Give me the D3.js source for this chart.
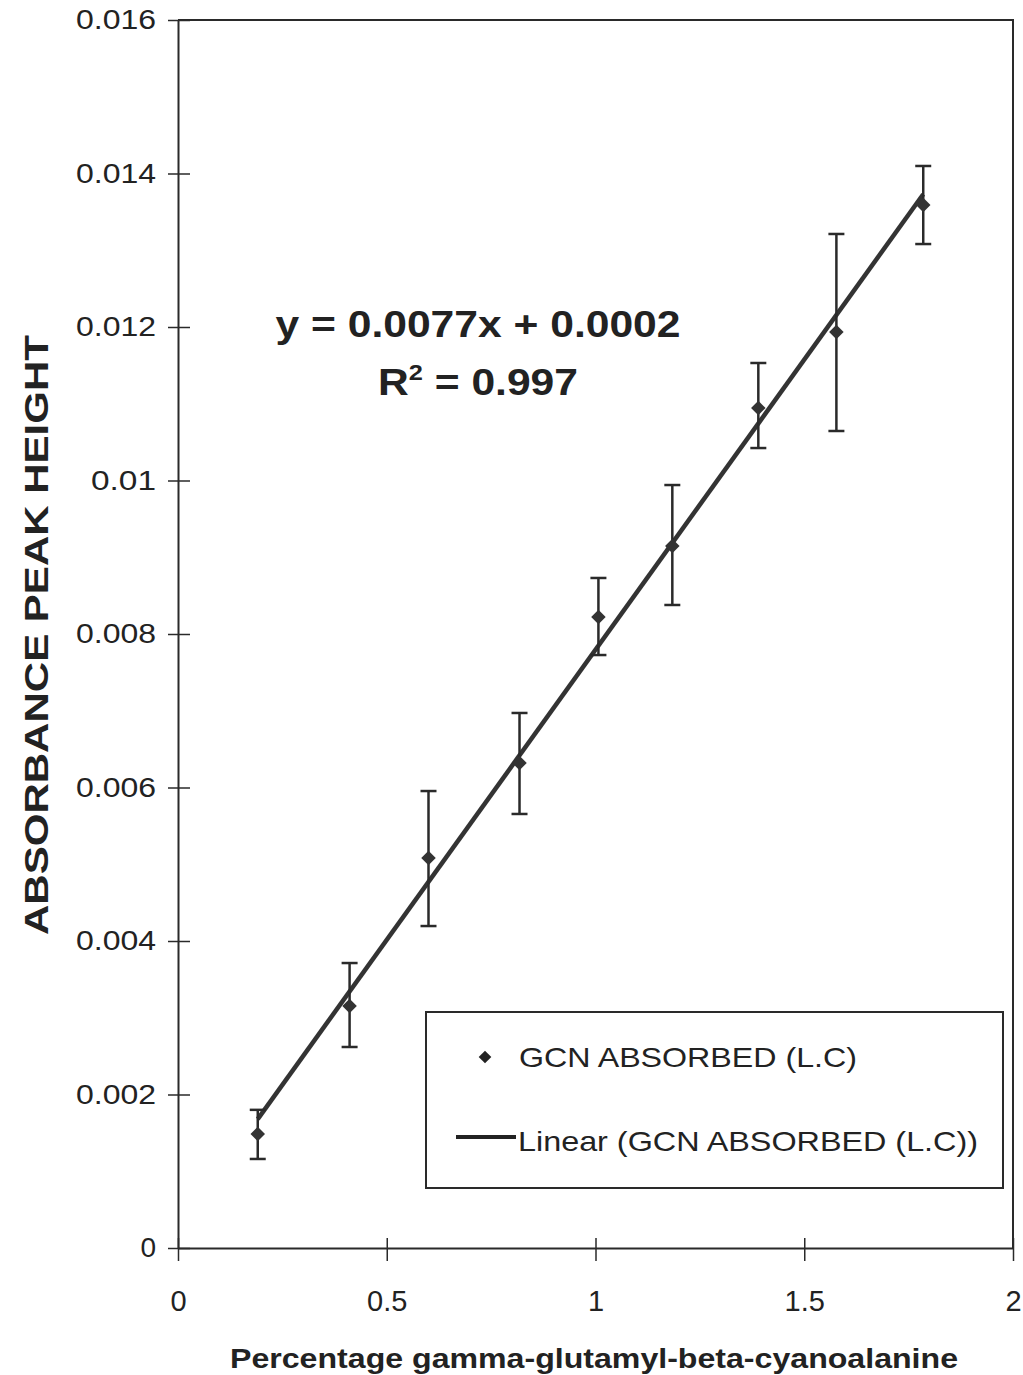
<!DOCTYPE html>
<html><head><meta charset="utf-8">
<script src="https://cdn.jsdelivr.net/npm/d3@7"></script>
<style>
html,body{margin:0;padding:0;background:#fff;}
text{font-family:"Liberation Sans",Arial,Helvetica,sans-serif;fill:#222;}
</style></head>
<body>
<svg id="chart" width="1023" height="1375"></svg>
<script>
// ---- data ----
const percent = [0.191, 0.411, 0.600, 0.818, 1.007, 1.184, 1.390, 1.577, 1.785];
const absorbance = [0.001485, 0.003153, 0.005081, 0.006319, 0.008221, 0.009147, 0.010945, 0.011935, 0.013590];
const errUpper = [0.00180, 0.003713, 0.005954, 0.006971, 0.008730, 0.009941, 0.011531, 0.013212, 0.014098];
const errLower = [0.00116, 0.002619, 0.004195, 0.005655, 0.007726, 0.008378, 0.010423, 0.010645, 0.013081];
const xTicks = [0, 0.5, 1, 1.5, 2];
const xTickLabels = ["0", "0.5", "1", "1.5", "2"];
const yTicks = [0, 0.002, 0.004, 0.006, 0.008, 0.01, 0.012, 0.014, 0.016];
const yTickLabels = ["0", "0.002", "0.004", "0.006", "0.008", "0.01", "0.012", "0.014", "0.016"];
const equationText = "y = 0.0077x + 0.0002";
const r2Text = " = 0.997";
const seriesName = "GCN ABSORBED (L.C)";
const trendName = "Linear (GCN ABSORBED (L.C))";
const xTitle = "Percentage gamma-glutamyl-beta-cyanoalanine";
const yTitle = "ABSORBANCE PEAK HEIGHT";

const svg = d3.select("#chart");
const L = 178, R = 1013, T = 20, B = 1248;
const x = d3.scaleLinear().domain([0, 2]).range([L, R]);
const y = d3.scaleLinear().domain([0, 0.016]).range([B, T]);
const ink = "#2a2a2a";
const FF = '"Liberation Sans",Arial,sans-serif';

// frame (top & right borders)
svg.append("path").attr("d", `M${L},${T}H${R}V${B}`).attr("fill", "none").attr("stroke", ink).attr("stroke-width", 2);

// y axis
const yAxis = d3.axisLeft(y).tickValues(yTicks).tickFormat((d, i) => yTickLabels[i]).tickSizeInner(10).tickSizeOuter(0).tickPadding(12);
const gy = svg.append("g").attr("transform", `translate(${L},0)`).call(yAxis);
gy.select(".domain").attr("stroke", ink).attr("stroke-width", 2);
gy.selectAll(".tick line").attr("stroke", ink).attr("stroke-width", 1.5).attr("x2", 12).attr("x1", -10);
gy.selectAll(".tick text").attr("font-size", 28).attr("fill", "#222").attr("x", -22)
  .attr("font-family", FF).attr("textLength", (d, i) => yTickLabels[i].length === 1 ? null : (yTickLabels[i].length === 4 ? 65 : 80))
  .attr("lengthAdjust", "spacingAndGlyphs");

// x axis
const xAxis = d3.axisBottom(x).tickValues(xTicks).tickFormat((d, i) => xTickLabels[i]).tickSizeInner(12).tickSizeOuter(0).tickPadding(30);
const gx = svg.append("g").attr("transform", `translate(0,${B})`).call(xAxis);
gx.select(".domain").attr("stroke", ink).attr("stroke-width", 2);
gx.selectAll(".tick line").attr("stroke", ink).attr("stroke-width", 1.5).attr("y1", -10).attr("y2", 13);
gx.selectAll(".tick text").attr("font-size", 29).attr("fill", "#222").attr("font-family", FF);

// titles
svg.append("text").attr("x", 594).attr("y", 1368).attr("text-anchor", "middle")
  .attr("font-size", 28).attr("font-weight", "bold")
  .attr("textLength", 728).attr("lengthAdjust", "spacingAndGlyphs").text(xTitle);
svg.append("text").attr("transform", "translate(48,635) rotate(-90)").attr("text-anchor", "middle")
  .attr("font-size", 34).attr("font-weight", "bold")
  .attr("textLength", 600).attr("lengthAdjust", "spacingAndGlyphs").text(yTitle);

// regression line from data
const n = percent.length;
const mx = d3.mean(percent), my = d3.mean(absorbance);
let sxy = 0, sxx = 0;
for (let i = 0; i < n; i++) { sxy += (percent[i] - mx) * (absorbance[i] - my); sxx += (percent[i] - mx) ** 2; }
const slope = sxy / sxx, icpt = my - slope * mx;
const x0 = d3.min(percent), x1 = d3.max(percent);
svg.append("line").attr("x1", x(x0)).attr("y1", y(icpt + slope * x0)).attr("x2", x(x1)).attr("y2", y(icpt + slope * x1))
  .attr("stroke", "#333").attr("stroke-width", 4.5);

// error bars
const eb = svg.append("g").attr("stroke", ink).attr("stroke-width", 2.5);
percent.forEach((p, i) => {
  const cx = x(p);
  eb.append("line").attr("x1", cx).attr("x2", cx).attr("y1", y(errUpper[i])).attr("y2", y(errLower[i]));
  eb.append("line").attr("x1", cx - 8).attr("x2", cx + 8).attr("y1", y(errUpper[i])).attr("y2", y(errUpper[i]));
  eb.append("line").attr("x1", cx - 8).attr("x2", cx + 8).attr("y1", y(errLower[i])).attr("y2", y(errLower[i]));
});

// markers (square rotated 45deg = diamond)
const diamond = d3.symbol().type(d3.symbolSquare).size(105);
svg.append("g").selectAll("path").data(percent).join("path")
  .attr("transform", (d, i) => `translate(${x(d)},${y(absorbance[i])}) rotate(45)`)
  .attr("d", diamond).attr("fill", "#333");

// equation
svg.append("text").attr("x", 478).attr("y", 337).attr("text-anchor", "middle")
  .attr("font-size", 37).attr("font-weight", "bold")
  .attr("textLength", 405).attr("lengthAdjust", "spacingAndGlyphs").text(equationText);
const r2 = svg.append("text").attr("x", 478).attr("y", 395).attr("text-anchor", "middle")
  .attr("font-size", 37).attr("font-weight", "bold")
  .attr("textLength", 200).attr("lengthAdjust", "spacingAndGlyphs");
r2.append("tspan").text("R");
r2.append("tspan").attr("font-size", 22).attr("dy", -15).text("2");
r2.append("tspan").attr("dy", 15).text(r2Text);

// legend
const lg = svg.append("g");
lg.append("rect").attr("x", 426).attr("y", 1012).attr("width", 577).attr("height", 176)
  .attr("fill", "#fff").attr("stroke", ink).attr("stroke-width", 2);
lg.append("path").attr("transform", "translate(485,1057) rotate(45)").attr("d", d3.symbol().type(d3.symbolSquare).size(80)).attr("fill", "#222");
lg.append("text").attr("x", 519).attr("y", 1067).attr("font-size", 28)
  .attr("textLength", 338).attr("lengthAdjust", "spacingAndGlyphs").text(seriesName);
lg.append("line").attr("x1", 456).attr("x2", 516).attr("y1", 1137).attr("y2", 1137).attr("stroke", "#222").attr("stroke-width", 4);
lg.append("text").attr("x", 518).attr("y", 1151).attr("font-size", 28)
  .attr("textLength", 460).attr("lengthAdjust", "spacingAndGlyphs").text(trendName);
</script>
</body></html>
